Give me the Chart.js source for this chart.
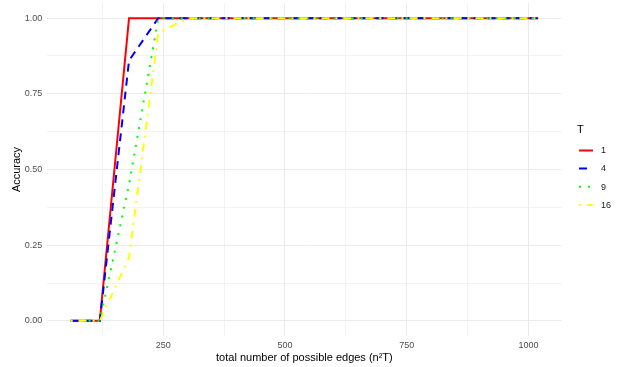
<!DOCTYPE html>
<html>
<head>
<meta charset="utf-8">
<script src="https://cdn.jsdelivr.net/npm/chart.js"></script>
<style>
    html, body { margin: 0; padding: 0; background: #ffffff; }
    #wrap { width: 619px; height: 367px; position: relative; }
</style>
</head>
<body>
<div id="wrap"><canvas id="chart"></canvas></div>
<script>
const edges = [60, 120, 180, 240, 300, 360, 420, 480, 540, 600, 660, 720, 780, 840, 900, 960, 1020];
const accT1 = [0, 0, 1, 1, 1, 1, 1, 1, 1, 1, 1, 1, 1, 1, 1, 1, 1];
const accT4 = [0, 0, 0.86, 1, 1, 1, 1, 1, 1, 1, 1, 1, 1, 1, 1, 1, 1];
const accT9 = [0, 0, 0.45, 1, 1, 1, 1, 1, 1, 1, 1, 1, 1, 1, 1, 1, 1];
const accT16 = [0, 0, 0.21, 0.95, 1, 1, 1, 1, 1, 1, 1, 1, 1, 1, 1, 1, 1];
const seriesNames = ['1', '4', '9', '16'];
const xGrid = [125, 250, 375, 500, 625, 750, 875, 1000];
const xLabels = [250, 500, 750, 1000];
const yGrid = [0, 0.125, 0.25, 0.375, 0.5, 0.625, 0.75, 0.875, 1];
const yLabels = [0, 0.25, 0.5, 0.75, 1];

const font = "'Liberation Sans', Arial, sans-serif";

function pts(values) {
    return edges.map((x, i) => ({x: x, y: values[i]}))
}

const legendPlugin = {
    id: 'sideLegend',
    afterDraw(chart) {
        const ctx = chart.ctx;
        ctx.save();
        ctx.fillStyle = '#000000';
        ctx.font = '11px ' + font;
        ctx.textAlign = 'left';
        ctx.textBaseline = 'middle';
        ctx.fillText('T', 577, 130);
        const rows = [150.5, 168.5, 186.8, 205];
        chart.data.datasets.forEach((ds, i) => {
            const y = rows[i];
            ctx.strokeStyle = ds.borderColor;
            ctx.lineWidth = ds.borderWidth;
            ctx.setLineDash(ds.borderDash || []);
            ctx.beginPath();
            ctx.moveTo(579, y);
            ctx.lineTo(593, y);
            ctx.stroke();
            ctx.setLineDash([]);
            ctx.fillStyle = '#1a1a1a';
            ctx.font = '9px ' + font;
            ctx.fillText(ds.label, 601, y + 0.5);
        });
        ctx.restore();
    }
};

function noPad(s) {
    s.paddingTop = 0;
    s.paddingBottom = 0;
    s.paddingLeft = 0;
    s.paddingRight = 0;
}

const ctx = document.getElementById('chart').getContext('2d');
new Chart(ctx, {
    type: 'line',
    data: {
        datasets: [{
            label: seriesNames[0],
            data: pts(accT1),
            borderColor: '#ff0000',
            borderWidth: 2,
            order: 3
        }, {
            label: seriesNames[1],
            data: pts(accT4),
            borderColor: '#0000ff',
            borderWidth: 2,
            borderDash: [8, 6],
            order: 2
        }, {
            label: seriesNames[2],
            data: pts(accT9),
            borderColor: '#00ff00',
            borderWidth: 2,
            borderDash: [2, 7],
            order: 1
        }, {
            label: seriesNames[3],
            data: pts(accT16),
            borderColor: '#ffff00',
            borderWidth: 2,
            borderDash: [2, 6, 8, 6],
            order: 0
        }]
    },
    options: {
        responsive: true,
        maintainAspectRatio: false,
        animation: false,
        layout: {padding: {top: 3, right: 57.4, left: 10, bottom: 0}},
        elements: {
            point: {radius: 0, hoverRadius: 0},
            line: {tension: 0, fill: false, borderCapStyle: 'butt'}
        },
        plugins: {
            legend: {display: false},
            tooltip: {enabled: false}
        },
        scales: {
            x: {
                type: 'linear',
                min: 12,
                max: 1068,
                border: {display: false},
                afterBuildTicks: s => { s.ticks = xGrid.map(v => ({value: v})) },
                afterFit: s => { s.height = 31; noPad(s) },
                grid: {
                    color: '#ebebeb',
                    lineWidth: c => xLabels.includes(c.tick.value) ? 1 : 0.6,
                    drawTicks: false
                },
                ticks: {
                    autoSkip: false,
                    maxRotation: 0,
                    padding: 4,
                    color: '#4d4d4d',
                    font: {family: font, size: 9},
                    callback: v => xLabels.includes(v) ? String(v) : ''
                },
                title: {
                    display: true,
                    text: 'total number of possible edges (n\u00b2T)',
                    color: '#000000',
                    font: {family: font, size: 11},
                    padding: {top: 0, bottom: 2}
                }
            },
            y: {
                type: 'linear',
                min: -0.05,
                max: 1.05,
                border: {display: false},
                afterBuildTicks: s => { s.ticks = yGrid.map(v => ({value: v})) },
                afterFit: s => { s.width = 37.2; noPad(s) },
                grid: {
                    color: '#ebebeb',
                    lineWidth: c => yLabels.includes(c.tick.value) ? 1 : 0.6,
                    drawTicks: false
                },
                ticks: {
                    autoSkip: false,
                    padding: 5,
                    color: '#4d4d4d',
                    font: {family: font, size: 9},
                    callback: v => yLabels.includes(v) ? v.toFixed(2) : ''
                },
                title: {
                    display: true,
                    text: 'Accuracy',
                    color: '#000000',
                    font: {family: font, size: 11},
                    padding: {top: 0, bottom: 0}
                }
            }
        }
    },
    plugins: [legendPlugin]
});
</script>
</body>
</html>
